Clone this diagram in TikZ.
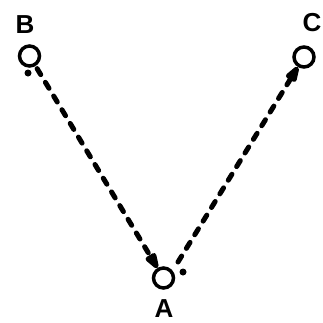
\documentclass[tikz,border=0pt]{standalone}
\usepackage{fontspec}
\setmainfont{Liberation Sans}
\usetikzlibrary{arrows.meta}
\begin{document}
\begin{tikzpicture}[x=1pt,y=1pt,
  station/.style={circle,draw=black,line width=3.5pt,minimum size=20pt,inner sep=0pt},
  lbl/.style={font=\fontsize{26}{26}\selectfont\bfseries,inner sep=0pt},
  spot/.style={circle,fill=black,minimum size=7pt,inner sep=0pt},
  route/.style={line width=5pt,line cap=round,dash pattern=on 7pt off 9pt,
    -{Triangle[length=22pt,width=12pt,round]}}]
\useasboundingbox (0,0) rectangle (323,322);
\node[station] (B) at (29.5,266) {};
\node[station] (C) at (304,265) {};
\node[station] (A) at (163.5,44) {};
\node[lbl] (lB) at (25,297) {B};
\node[lbl] (lC) at (312,299) {C};
\node[lbl] (lA) at (164,13) {A};
\node[spot] (dB) at (28,249) {};
\node[spot] (dA) at (183,50) {};
\coordinate (a2) at (178,60);
\draw[route,shorten <=3pt] (B) -- (A);
\draw[route] (a2) -- (C);
\end{tikzpicture}
\end{document}
